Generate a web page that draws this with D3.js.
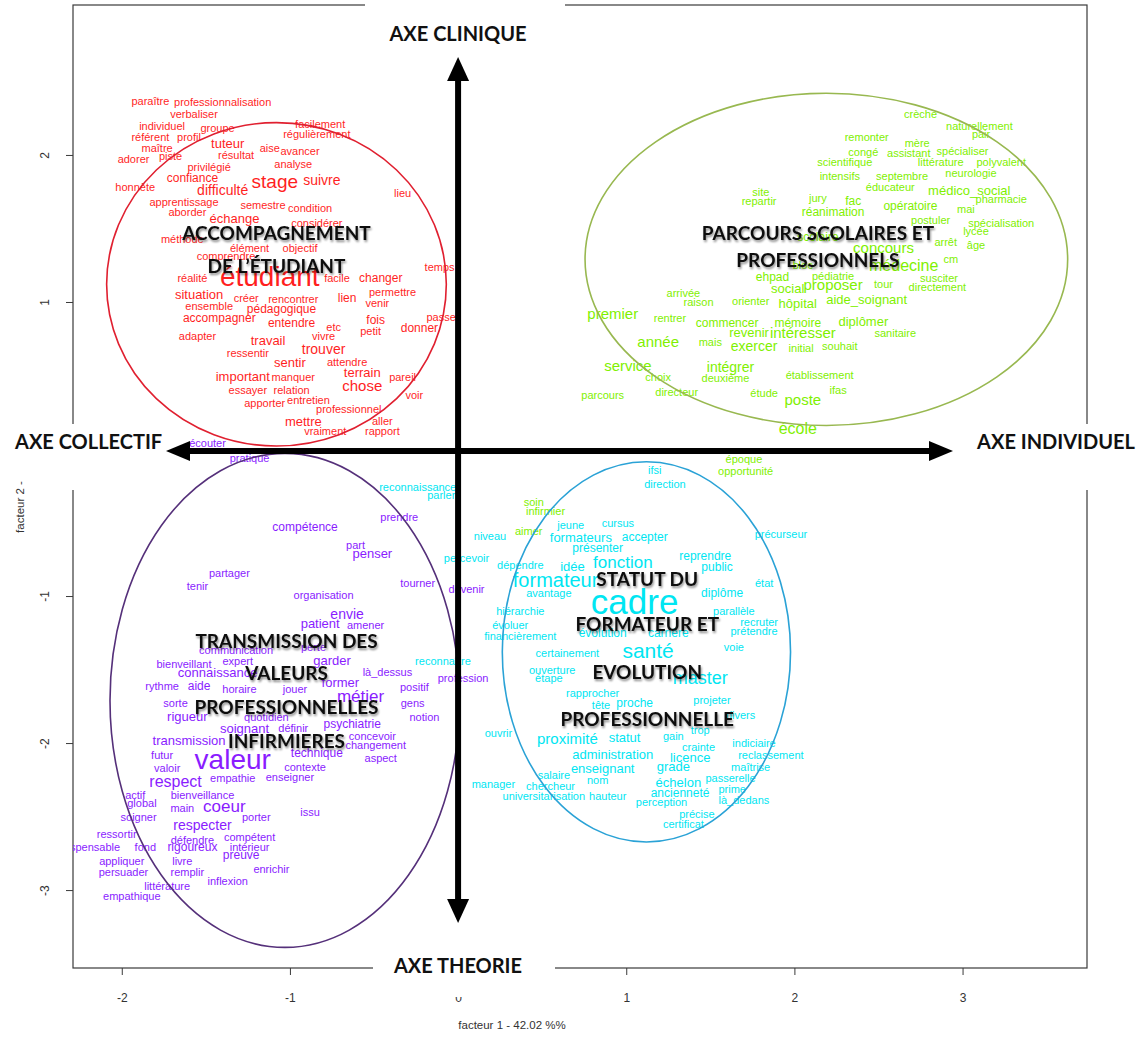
<!DOCTYPE html>
<html><head><meta charset="utf-8">
<script src="https://cdn.jsdelivr.net/npm/d3@7"></script>
<style>body{margin:0;background:#fff}svg{display:block}</style>
</head><body><svg id="c" width="1142" height="1037"></svg>
<script>
const xTicks=[-2,-1,0,1,2,3];
const yTicks=[-3,-2,-1,0,1,2];
const xDomain=[-2.29,3.74];
const yDomain=[-3.53,3.02];
const xTitle="facteur  1  - 42.02 %%";
const yTitle="facteur  2  -";

// [word, facteur1, facteur2, weight]
const redWords=[
["paraître",-1.83,2.37,0],["professionnalisation",-1.40,2.36,0],["verbaliser",-1.57,2.28,0],["individuel",-1.76,2.20,0],["groupe",-1.43,2.18,0],["facilement",-0.82,2.21,0],["référent",-1.83,2.12,0],["profil",-1.60,2.12,0],["régulièrement",-0.84,2.14,0],["maître",-1.79,2.05,0],["tuteur",-1.37,2.08,2],["aise",-1.12,2.05,0],["avancer",-0.94,2.03,0],["adorer",-1.93,1.97,0],["piste",-1.71,1.99,0],["résultat",-1.32,2.00,0],["analyse",-0.98,1.94,0],["privilégié",-1.48,1.92,0],["confiance",-1.58,1.84,1],["stage",-1.09,1.82,8],["suivre",-0.81,1.83,3],["honnête",-1.92,1.78,0],["difficulté",-1.40,1.76,3],["lieu",-0.33,1.74,0],["apprentissage",-1.63,1.68,0],["semestre",-1.16,1.66,0],["condition",-0.88,1.64,0],["aborder",-1.61,1.61,0],["échange",-1.33,1.57,2],["considérer",-0.84,1.54,0],["méthode",-1.64,1.43,0],["élément",-1.24,1.37,0],["objectif",-0.94,1.37,0],["comprendre",-1.38,1.31,0],["temps",-0.11,1.24,0],["réalité",-1.58,1.16,0],["étudiant",-1.12,1.17,17],["facile",-0.72,1.16,0],["changer",-0.46,1.16,1],["permettre",-0.39,1.07,0],["situation",-1.54,1.05,2],["créer",-1.26,1.03,0],["rencontrer",-0.98,1.02,0],["lien",-0.66,1.03,1],["venir",-0.48,0.99,0],["ensemble",-1.48,0.97,0],["pédagogique",-1.05,0.95,1],["accompagner",-1.42,0.89,1],["entendre",-0.99,0.86,1],["fois",-0.49,0.88,1],["passer",-0.09,0.90,0],["etc",-0.74,0.83,0],["petit",-0.52,0.80,0],["donner",-0.23,0.82,1],["adapter",-1.55,0.77,0],["travail",-1.13,0.74,2],["vivre",-0.80,0.77,0],["trouver",-0.80,0.68,3],["ressentir",-1.25,0.65,0],["sentir",-1.00,0.59,2],["attendre",-0.66,0.59,0],["important",-1.28,0.49,2],["manquer",-0.98,0.49,0],["terrain",-0.57,0.52,2],["pareil",-0.33,0.49,0],["chose",-0.57,0.43,4],["essayer",-1.25,0.40,0],["relation",-0.99,0.40,0],["voir",-0.26,0.37,0],["apporter",-1.15,0.31,0],["entretien",-0.89,0.33,0],["professionnel",-0.65,0.27,0],["mettre",-0.92,0.19,2],["aller",-0.45,0.19,0],["vraiment",-0.79,0.12,0],["rapport",-0.45,0.12,0]
];
const greenWords=[
["crèche",2.75,2.28,0],["naturellement",3.10,2.20,0],["pair",3.11,2.14,0],["remonter",2.43,2.12,0],["mère",2.73,2.08,0],["congé",2.41,2.02,0],["assistant",2.68,2.01,0],["spécialiser",3.00,2.03,0],["scientifique",2.30,1.95,0],["littérature",2.87,1.95,0],["polyvalent",3.23,1.95,0],["intensifs",2.27,1.86,0],["septembre",2.64,1.86,0],["neurologie",3.05,1.88,0],["éducateur",2.57,1.78,0],["médico_social",3.04,1.76,2],["site",1.80,1.75,0],["jury",2.14,1.71,0],["repartir",1.79,1.69,0],["fac",2.35,1.69,1],["pharmacie",3.23,1.70,0],["opératoire",2.69,1.65,1],["réanimation",2.23,1.61,1],["mai",3.02,1.63,0],["postuler",2.81,1.56,0],["spécialisation",3.23,1.54,0],["scolaire",2.14,1.44,1],["lycée",3.08,1.48,0],["arrêt",2.90,1.41,0],["âge",3.08,1.39,0],["concours",2.53,1.37,4],["cm",2.93,1.29,0],["bloc",2.05,1.25,0],["médecine",2.65,1.25,5],["ehpad",1.87,1.17,1],["pédiatrie",2.23,1.18,0],["proposer",2.23,1.12,4],["tour",2.53,1.12,0],["susciter",2.86,1.16,0],["directement",2.85,1.10,0],["social",1.96,1.09,2],["arrivée",1.34,1.06,0],["raison",1.43,1.00,0],["orienter",1.74,1.01,0],["hôpital",2.02,0.99,2],["aide_soignant",2.43,1.02,2],["premier",0.92,0.92,4],["rentrer",1.26,0.89,0],["commencer",1.60,0.86,1],["mémoire",2.02,0.86,1],["diplômer",2.41,0.87,2],["revenir",1.73,0.79,2],["intéresser",2.05,0.79,4],["sanitaire",2.60,0.79,0],["année",1.19,0.73,4],["mais",1.50,0.73,0],["exercer",1.76,0.70,3],["initial",2.04,0.69,0],["souhait",2.27,0.70,0],["service",1.01,0.57,4],["intégrer",1.62,0.56,3],["choix",1.19,0.49,0],["deuxième",1.59,0.48,0],["établissement",2.15,0.50,0],["parcours",0.86,0.37,0],["directeur",1.30,0.39,0],["étude",1.82,0.38,0],["ifas",2.26,0.40,0],["poste",2.05,0.34,4],["école",2.02,0.14,5],["époque",1.70,-0.07,0],["opportunité",1.71,-0.15,0],["soin",0.45,-0.36,0],["infirmier",0.52,-0.42,0],["aimer",0.42,-0.56,0]
];
const cyanWords=[
["reconnaissance",-0.24,-0.26,0],["parler",-0.10,-0.31,0],["ifsi",1.17,-0.14,0],["direction",1.23,-0.24,0],["jeune",0.67,-0.52,0],["cursus",0.95,-0.50,0],["niveau",0.19,-0.59,0],["formateurs",0.73,-0.60,2],["accepter",1.11,-0.60,1],["précurseur",1.92,-0.58,0],["présenter",0.83,-0.67,1],["percevoir",0.05,-0.74,0],["dépendre",0.37,-0.79,0],["idée",0.68,-0.80,2],["fonction",0.98,-0.77,6],["reprendre",1.47,-0.73,1],["public",1.54,-0.80,1],["formateur",0.58,-0.89,9],["état",1.82,-0.91,0],["avantage",0.54,-0.98,0],["cadre",1.05,-1.04,24],["diplôme",1.57,-0.98,1],["hiérarchie",0.37,-1.10,0],["parallèle",1.64,-1.10,0],["évoluer",0.31,-1.20,0],["recruter",1.79,-1.18,0],["financièrement",0.37,-1.27,0],["évolution",0.86,-1.25,1],["carrière",1.25,-1.25,1],["prétendre",1.76,-1.24,0],["santé",1.13,-1.37,10],["voie",1.64,-1.35,0],["certainement",0.65,-1.39,0],["reconnaître",-0.09,-1.44,0],["ouverture",0.56,-1.50,0],["étape",0.54,-1.56,0],["master",1.44,-1.56,7],["rapprocher",0.80,-1.66,0],["tête",0.85,-1.74,0],["proche",1.05,-1.73,1],["projeter",1.51,-1.71,0],["divers",1.68,-1.81,0],["ouvrir",0.24,-1.93,0],["proximité",0.65,-1.97,4],["statut",0.99,-1.96,2],["gain",1.28,-1.95,0],["trop",1.44,-1.91,0],["indiciaire",1.76,-2.00,0],["reclassement",1.86,-2.08,0],["crainte",1.43,-2.03,0],["administration",0.92,-2.08,2],["licence",1.38,-2.10,2],["enseignant",0.86,-2.17,2],["grade",1.28,-2.16,2],["maîtrise",1.74,-2.16,0],["salaire",0.57,-2.22,0],["nom",0.83,-2.25,0],["échelon",1.31,-2.27,2],["passerelle",1.62,-2.24,0],["manager",0.21,-2.28,0],["chercheur",0.55,-2.29,0],["prime",1.63,-2.31,0],["universitarisation",0.51,-2.36,0],["hauteur",0.89,-2.36,0],["ancienneté",1.32,-2.34,1],["perception",1.21,-2.40,0],["là_dedans",1.70,-2.39,0],["précise",1.42,-2.48,0],["certificat",1.34,-2.55,0]
];
const purpleWords=[
["écouter",-1.49,0.04,0],["pratique",-1.24,-0.06,0],["prendre",-0.35,-0.46,0],["compétence",-0.91,-0.53,1],["part",-0.61,-0.65,0],["penser",-0.51,-0.71,2],["partager",-1.36,-0.84,0],["tenir",-1.55,-0.93,0],["tourner",-0.24,-0.91,0],["devenir",0.05,-0.95,0],["organisation",-0.80,-0.99,0],["envie",-0.66,-1.12,3],["patient",-0.82,-1.19,2],["amener",-0.55,-1.20,0],["communication",-1.32,-1.37,0],["perte",-0.86,-1.35,0],["bienveillant",-1.63,-1.46,0],["expert",-1.31,-1.44,0],["garder",-0.75,-1.44,2],["connaissance",-1.43,-1.52,2],["là_dessus",-0.42,-1.52,0],["profession",0.03,-1.56,0],["rythme",-1.76,-1.61,0],["aide",-1.54,-1.61,1],["horaire",-1.30,-1.63,0],["jouer",-0.97,-1.63,0],["former",-0.70,-1.59,2],["positif",-0.26,-1.62,0],["métier",-0.58,-1.68,6],["sorte",-1.68,-1.73,0],["gens",-0.27,-1.73,0],["rigueur",-1.61,-1.82,2],["quotidien",-1.14,-1.82,0],["notion",-0.20,-1.82,0],["soignant",-1.27,-1.90,2],["définir",-0.98,-1.90,0],["psychiatrie",-0.63,-1.87,1],["transmission",-1.60,-1.98,2],["concevoir",-0.51,-1.95,0],["changement",-0.49,-2.01,0],["futur",-1.76,-2.08,0],["valeur",-1.34,-2.11,17],["technique",-0.84,-2.07,1],["aspect",-0.46,-2.10,0],["valoir",-1.73,-2.17,0],["contexte",-0.91,-2.16,0],["respect",-1.68,-2.26,5],["empathie",-1.34,-2.24,0],["enseigner",-1.00,-2.23,0],["actif",-1.92,-2.35,0],["bienveillance",-1.52,-2.35,0],["global",-1.88,-2.41,0],["main",-1.64,-2.44,0],["coeur",-1.39,-2.43,6],["issu",-0.88,-2.47,0],["soigner",-1.90,-2.50,0],["porter",-1.20,-2.50,0],["respecter",-1.52,-2.56,3],["ressortir",-2.03,-2.62,0],["défendre",-1.58,-2.66,0],["compétent",-1.24,-2.64,0],["indispensable",-2.21,-2.71,0],["fond",-1.86,-2.71,0],["rigoureux",-1.58,-2.71,1],["intérieur",-1.24,-2.71,0],["appliquer",-2.00,-2.80,0],["livre",-1.64,-2.80,0],["preuve",-1.29,-2.76,1],["persuader",-1.99,-2.88,0],["remplir",-1.61,-2.88,0],["enrichir",-1.11,-2.86,0],["littérature",-1.73,-2.97,0],["inflexion",-1.37,-2.94,0],["empathique",-1.94,-3.04,0]
];
// cluster ellipses (centre and radii in factor units) and titles
const clusterNames=["red","green","cyan","purple"];
const ellipseCx=[-1.08,2.19,1.12,-1.03];
const ellipseCy=[1.12,1.29,-1.38,-1.71];
const ellipseRx=[1.01,1.435,0.857,1.04];
const ellipseRy=[1.10,1.13,1.293,1.68];
const titleLines=[["ACCOMPAGNEMENT","DE L’ÉTUDIANT"],["PARCOURS SCOLAIRES ET","PROFESSIONNELS"],["STATUT DU","FORMATEUR ET","EVOLUTION","PROFESSIONNELLE"],["TRANSMISSION DES","VALEURS","PROFESSIONNELLES","INFIRMIERES"]];
const titleX=[-1.08,2.14,1.125,-1.02];
const titleY=[[1.47,1.25],[1.476,1.286],[-0.878,-1.19,-1.51,-1.83],[-1.30,-1.517,-1.748,-1.986]];
const axisNames=["AXE CLINIQUE","AXE COLLECTIF","AXE INDIVIDUEL","AXE THEORIE"];

const wordColor={red:"#ff1f1f",green:"#7ff000",cyan:"#00e6f2",purple:"#8a1cff"};
const ellColor={red:"#e02030",green:"#98b850",cyan:"#2aa2d6",purple:"#55307a"};

const svg=d3.select("#c");
const L=73,R=1087,T=5,B=968;
const x=d3.scaleLinear().domain(xDomain).range([L,R]);
const y=d3.scaleLinear().domain(yDomain).range([B,T]);
const fs=d3.scaleLinear().domain([0,24]).range([11,35]);

const defs=svg.append("defs");
defs.append("clipPath").attr("id","plot").append("rect").attr("x",L).attr("y",T).attr("width",R-L).attr("height",B-T);
const f=defs.append("filter").attr("id","sh").attr("x","-10%").attr("y","-40%").attr("width","120%").attr("height","180%");
f.append("feGaussianBlur").attr("in","SourceAlpha").attr("stdDeviation",1.3);
f.append("feOffset").attr("dx",1.2).attr("dy",1.5).attr("result","o");
f.append("feComponentTransfer").attr("in","o").attr("result","s").append("feFuncA").attr("type","linear").attr("slope",0.45);
const fm=f.append("feMerge");fm.append("feMergeNode").attr("in","s");fm.append("feMergeNode").attr("in","SourceGraphic");

svg.append("rect").attr("width",1142).attr("height",1037).attr("fill","#fff");

// frame
svg.append("rect").attr("x",L).attr("y",T).attr("width",R-L).attr("height",B-T).attr("fill","none").attr("stroke","#3a3a3a").attr("stroke-width",1.2);

// axes
const ax=svg.append("g").attr("transform",`translate(0,${B})`).call(d3.axisBottom(x).tickValues(xTicks).tickSize(7).tickPadding(18).tickFormat(d=>String(d)));
ax.select(".domain").remove();
ax.selectAll("line").attr("stroke","#3a3a3a");
ax.selectAll("text").attr("font-family","Liberation Sans, Arial, sans-serif").attr("font-size",12).attr("fill","#333");
const ay=svg.append("g").attr("transform",`translate(${L},0)`).call(d3.axisLeft(y).tickValues(yTicks).tickSize(7).tickFormat(d=>String(d)));
ay.select(".domain").remove();
ay.selectAll("line").attr("stroke","#3a3a3a");
ay.selectAll("text").attr("x",null).attr("dy",null).attr("text-anchor","middle").attr("dominant-baseline","central")
  .attr("transform","translate(-28,0) rotate(-90)").attr("font-family","Liberation Sans, Arial, sans-serif").attr("font-size",12).attr("fill","#333");
svg.append("text").attr("x",512).attr("y",1029).attr("text-anchor","middle").attr("font-family","Liberation Sans, Arial, sans-serif").attr("font-size",11.5).attr("fill","#333").text(xTitle);

// words
const wg=svg.append("g").attr("clip-path","url(#plot)");
const sets={red:redWords,green:greenWords,cyan:cyanWords,purple:purpleWords};
clusterNames.forEach(k=>{
  wg.append("g").selectAll("text").data(sets[k]).join("text")
    .attr("x",d=>x(d[1])).attr("y",d=>y(d[2]))
    .attr("text-anchor","middle").attr("dominant-baseline","central")
    .attr("font-family","Liberation Sans, Arial, sans-serif")
    .attr("font-size",d=>fs(d[3])).attr("fill",wordColor[k]).text(d=>d[0]);
});
// ellipses
clusterNames.forEach((k,i)=>{
  wg.append("ellipse").attr("cx",x(ellipseCx[i])).attr("cy",y(ellipseCy[i]))
    .attr("rx",x(ellipseCx[i]+ellipseRx[i])-x(ellipseCx[i]))
    .attr("ry",y(ellipseCy[i])-y(ellipseCy[i]+ellipseRy[i]))
    .attr("fill","none").attr("stroke",ellColor[k]).attr("stroke-width",1.6);
});
// titles
const tg=svg.append("g").attr("filter","url(#sh)");
clusterNames.forEach((k,i)=>{
  titleLines[i].forEach((t,j)=>{
    tg.append("text").attr("x",x(titleX[i])).attr("y",y(titleY[i][j]))
      .attr("text-anchor","middle").attr("dominant-baseline","central")
      .attr("font-family","Lato, 'Open Sans', sans-serif").attr("font-weight",700)
      .attr("font-size",19).attr("fill","#111").text(t);
  });
});

// axis name boxes (cover frame)
const boxes=[[365,0,200,24],[0,424,170,36],[60,424,26,66],[955,424,187,36],[1075,424,25,66],[373,945,182,52]];
boxes.forEach(b=>svg.append("rect").attr("x",b[0]).attr("y",b[1]).attr("width",b[2]).attr("height",b[3]).attr("fill","#fff"));
const namePos=[[458,33,"middle"],[15,441,"start"],[1135,441,"end"],[458,965,"middle"]];
axisNames.forEach((t,i)=>{
  svg.append("text").attr("x",namePos[i][0]).attr("y",namePos[i][1]).attr("text-anchor",namePos[i][2])
    .attr("dominant-baseline","central").attr("font-family","Lato, 'Open Sans', sans-serif").attr("font-weight",700)
    .attr("font-size",20).attr("fill","#111").text(t);
});
svg.append("text").attr("transform","translate(20,507) rotate(-90)").attr("text-anchor","middle").attr("dominant-baseline","central").attr("font-family","Liberation Sans, Arial, sans-serif").attr("font-size",11.5).attr("fill","#333").text(yTitle);

// arrows through origin
const ox=x(0),oy=y(0)+2;
const ag=svg.append("g").attr("fill","#000");
ag.append("rect").attr("x",186).attr("y",oy-3).attr("width",933-186).attr("height",6);
ag.append("path").attr("d",`M166,${oy} L190,${oy-10} L190,${oy+10} Z`);
ag.append("path").attr("d",`M953,${oy} L929,${oy-10} L929,${oy+10} Z`);
ag.append("rect").attr("x",ox-3).attr("y",78).attr("width",6).attr("height",902-78);
ag.append("path").attr("d",`M${ox},57 L${ox-11},81 L${ox+11},81 Z`);
ag.append("path").attr("d",`M${ox},923 L${ox-11},899 L${ox+11},899 Z`);
</script></body></html>
